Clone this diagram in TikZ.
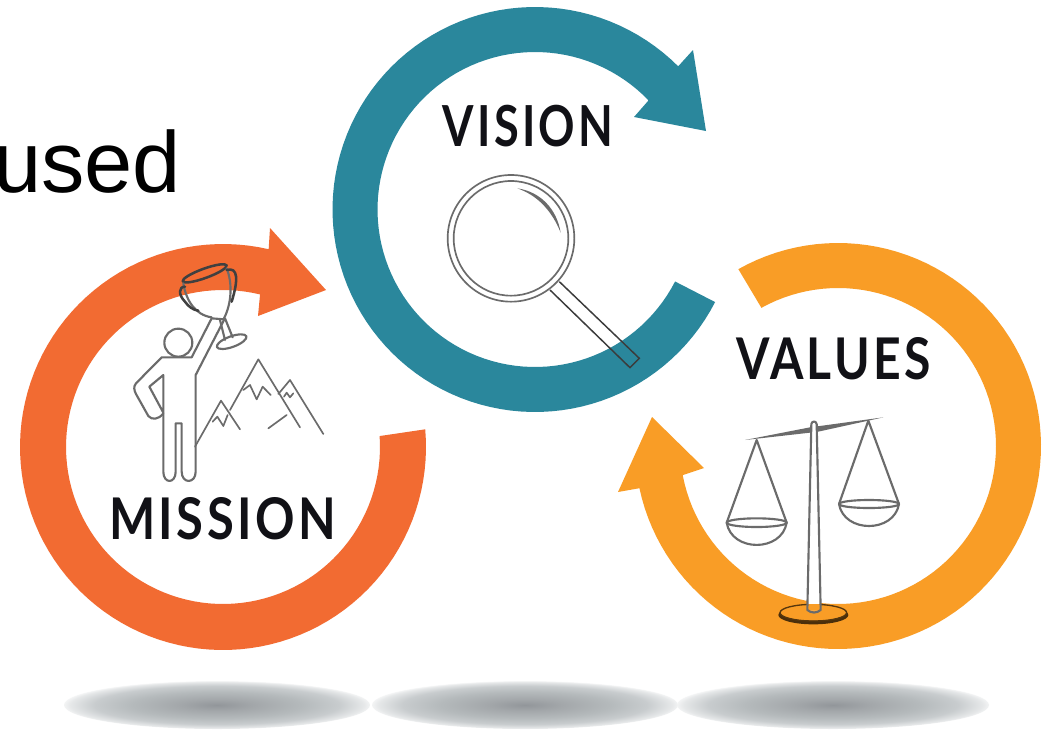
\documentclass[tikz,border=0pt]{standalone}
\usepackage{fontspec}
\setmainfont{Liberation Sans}
\newfontfamily\lato[LetterSpace=7]{Lato}
\definecolor{morange}{HTML}{F26B32}
\definecolor{vteal}{HTML}{2A879C}
\definecolor{vyellow}{HTML}{F99D26}
\definecolor{icon}{HTML}{6B6B6B}
\definecolor{inkblack}{HTML}{111116}
\definecolor{fa}{HTML}{92969A}
\definecolor{fb}{HTML}{A3A7AA}
\definecolor{fc}{HTML}{B5BABC}
\definecolor{fd}{HTML}{C8CCCE}
\definecolor{fe}{HTML}{E6E8E9}
\pgfdeclareradialshading{floorshade}{\pgfpoint{0bp}{0bp}}{color(0bp)=(fa); color(6bp)=(fb); color(14bp)=(fc); color(20bp)=(fd); color(24bp)=(fe); color(26bp)=(white); color(50bp)=(white)}
\tikzset{
  icon line/.style={draw=icon,line width=1.6pt,line join=round,line cap=round,fill=none},
  thin icon/.style={draw=icon,line width=1.25pt,line join=round,line cap=round,fill=none},
  dark icon/.style={draw=icon!60!black,line width=1.9pt,line join=round,line cap=round,fill=none},
  title/.style={inner sep=0pt,text=inkblack,font=\lato\bfseries},
  floor/.style={shading=floorshade}
}
\begin{document}
\begin{tikzpicture}[x=0.75pt,y=-0.75pt]
\useasboundingbox (0,0) rectangle (1056,729);
\clip (0,0) rectangle (1056,729);
\fill[white] (0,0) rectangle (1056,729);

\node[anchor=base west,inner sep=0pt,font=\fontsize{65}{65}\selectfont,text=black] (usedword) at (-7,192) {used};

% floor shadows
\shade[floor] (217,705) ellipse [x radius=153,y radius=24];
\shade[floor] (525,705) ellipse [x radius=153,y radius=24];
\shade[floor] (833,705) ellipse [x radius=156,y radius=24];

% mission ring
\fill[morange] plot[domain=-5:283,samples=100] ({223+203*cos(\x)},{447+203*sin(\x)})
  -- (270,228) -- (326,290) -- (258,316) -- (260,295)
  -- plot[domain=284:-4,samples=100] ({223+157*cos(\x)},{447+157*sin(\x)}) -- cycle;

% values ring
\fill[vyellow] plot[domain=240.6:528,samples=100] ({838+203*cos(\x)},{446+203*sin(\x)})
  -- (618,492) -- (652,417) -- (704,468) -- (683,475)
  -- plot[domain=529:241,samples=100] ({838+158*cos(\x)},{446+158*sin(\x)}) -- cycle;

% vision ring
\fill[vteal] plot[domain=27.2:315,samples=100] ({535+202.5*cos(\x)},{209.5+202.5*sin(\x)})
  -- (693,50) -- (706,131) -- (634,117) -- (648,101)
  -- plot[domain=316:27.2,samples=100] ({535+157.5*cos(\x)},{209.5+157.5*sin(\x)}) -- cycle;

% titles
\node[title] (visiontitle) at (528,126.5) {\resizebox{127.5pt}{31pt}{VISION}};
\node[title] (missiontitle) at (222.5,519) {\resizebox{170pt}{31.5pt}{MISSION}};
\node[title] (valuestitle) at (833.5,359) {\resizebox{146pt}{31.5pt}{VALUES}};

% magnifier
\begin{scope}[shift={(322.5pt,-67.5pt)},x=0.25pt,y=-0.25pt]
  \draw[thin icon] (243,445) circle [radius=190];
  \draw[thin icon] (243,445) circle [radius=172];
  \fill[icon] (262,295) .. controls (330,305) and (380,355) .. (392,428) .. controls (365,360) and (320,315) .. (262,295) -- cycle;
  \draw[draw=icon!55!black,line width=1.1pt,line join=miter] (360,600) -- (600,833) -- (628,805) -- (388,575);
\end{scope}

% champion figure, trophy and mountains
\begin{scope}[shift={(82.5pt,-180pt)},x=0.25pt,y=-0.25pt]
  \draw[icon line] (205,308) circle [radius=42];
  \draw[icon line] (305,235) -- (245,352) -- (155,352) -- (78,430) .. controls (70,440) and (72,450) .. (78,462) -- (115,528) .. controls (125,540) and (145,540) .. (160,520);
  \draw[icon line] (160,518) -- (118,440) -- (160,405) -- (160,695) .. controls (160,732) and (197,732) .. (197,695) -- (197,550) -- (215,550) -- (215,695) .. controls (215,732) and (257,732) .. (257,695) -- (257,405) -- (342,240);
  \draw[icon line] (305,235) -- (342,238);
  % trophy
  \draw[dark icon,rotate around={20:(284,100)}] (284,100) ellipse [x radius=70,y radius=14];
  \draw[icon line] (220,130) .. controls (228,180) and (255,225) .. (305,232);
  \draw[icon line] (350,85) .. controls (368,130) and (365,190) .. (342,235);
  \draw[dark icon] (225,140) .. controls (205,140) and (205,165) .. (225,185) .. controls (235,200) and (250,210) .. (265,212);
  \draw[dark icon] (350,90) .. controls (385,80) and (385,120) .. (365,185);
  \draw[icon line] (330,240) -- (345,300) (345,235) -- (368,292);
  \draw[icon line,rotate around={20:(365,305)}] (365,305) ellipse [x radius=47,y radius=16];
  % mountains
  \draw[thin icon] (255,620) -- (333,482) -- (390,568);
  \draw[thin icon] (360,510) -- (445,358) -- (570,562);
  \draw[thin icon] (505,462) -- (540,420) -- (640,582);
  \draw[thin icon] (475,565) -- (530,525);
  \draw[thin icon] (308,545) -- (322,530) -- (340,558) -- (353,525);
  \draw[thin icon] (400,450) -- (420,435) -- (440,478) -- (458,440) -- (482,465);
  \draw[thin icon] (522,470) -- (530,458) -- (540,472) -- (550,460);
\end{scope}

% balance
\begin{scope}[shift={(525pt,-300pt)},x=0.25pt,y=-0.25pt]
  \fill[icon] (135,120) -- (330,82) -- (550,52) -- (350,96) -- (330,98) -- cycle;
  \draw[icon line] (170,120) -- (80,368) (170,120) -- (260,368);
  \draw[icon line] (170,368) ellipse [x radius=90,y radius=13];
  \draw[icon line] (80,368) .. controls (95,457) and (245,457) .. (260,368);
  \draw[icon line] (505,62) -- (417,312) (505,62) -- (597,312);
  \draw[icon line] (507,312) ellipse [x radius=90,y radius=12];
  \draw[icon line] (417,312) .. controls (432,400) and (582,400) .. (597,312);
  \fill[black!70!vyellow] (340,645) ellipse [x radius=105,y radius=28];
  \fill[vyellow] (340,638) ellipse [x radius=98,y radius=24];
  \draw[line width=1pt,draw=black!65!vyellow] (340,638) ellipse [x radius=100,y radius=25];
  \fill[white] (322,630) -- (334,70) -- (350,70) -- (362,630) -- cycle;
  \fill[vyellow] (322,612) -- (362,612) -- (362,630) -- (322,630) -- cycle;
  \draw[icon line] (322,630) -- (334,72) .. controls (336,62) and (348,62) .. (350,72) -- (362,630) .. controls (350,640) and (334,640) .. (322,630) -- cycle;
\end{scope}
\end{tikzpicture}
\end{document}
